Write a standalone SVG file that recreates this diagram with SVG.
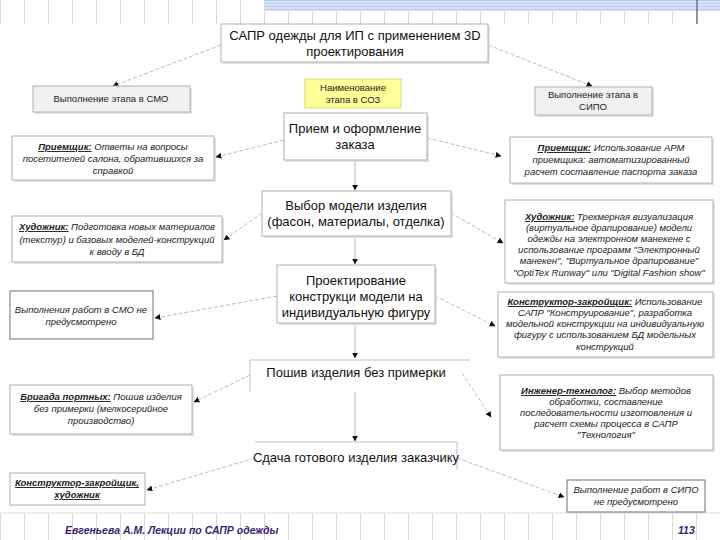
<svg xmlns="http://www.w3.org/2000/svg" width="720" height="540" viewBox="0 0 720 540">
<defs>
<marker id="ah" viewBox="0 0 10 10" refX="9" refY="5" markerWidth="6" markerHeight="6" orient="auto" markerUnits="userSpaceOnUse">
<path d="M0,0 L10,5 L0,10 z" fill="#111"/>
</marker>
<pattern id="grid" x="0" y="0" width="24" height="40" patternUnits="userSpaceOnUse">
<line x1="0.5" y1="0" x2="0.5" y2="40" stroke="#d8d8d8" stroke-width="1"/>
</pattern>
<pattern id="band" x="0" y="0" width="10" height="3" patternUnits="userSpaceOnUse">
<rect width="10" height="3" fill="#d6e3f5"/>
<rect width="10" height="1" fill="#b9cdea"/>
</pattern>
</defs>
<style>
.bx{fill:#fff;stroke:#b0b0b0;stroke-width:1}
.sh{fill:#e2e2e2}
.dk{fill:#fff;stroke:#707070;stroke-width:1}
.gr{fill:#f1f1f1;stroke:#b0b0b0;stroke-width:1}
.m{font-family:"Liberation Sans",Arial,sans-serif;font-size:13px;fill:#111;text-anchor:middle}
.s{font-family:"Liberation Sans",Arial,sans-serif;font-size:9.5px;font-style:italic;fill:#222;text-anchor:middle}
.n{font-family:"Liberation Sans",Arial,sans-serif;font-size:9.5px;fill:#222;text-anchor:middle}
.r{font-weight:bold;text-decoration:underline}
.c{fill:none;stroke:#bcbcbc;stroke-width:1;stroke-dasharray:4 2;marker-end:url(#ah)}
.v{fill:none;stroke:#b8b8b8;stroke-width:1;marker-end:url(#ah)}
.f{font-family:"Liberation Sans",Arial,sans-serif;font-size:10.5px;font-style:italic;font-weight:bold;fill:#3a1f70}
</style>
<rect width="720" height="540" fill="#fff"/>
<g id="background">
<rect x="0" y="0" width="720" height="24" fill="url(#grid)"/>
<rect x="264" y="0" width="456" height="11" fill="url(#band)"/>
<line x1="697" y1="0" x2="697" y2="24" stroke="#3a3a6a" stroke-width="1"/>
<rect x="0" y="513" width="720" height="27" fill="url(#grid)"/>
<line x1="0" y1="513" x2="720" y2="513" stroke="#dddddd" stroke-width="1"/>
</g>
<g id="connectors">
<line class="c" x1="221" y1="45" x2="113" y2="86"/>
<line class="c" x1="488" y1="45" x2="592" y2="86"/>
<line class="c" x1="284" y1="140" x2="216" y2="157"/>
<line class="c" x1="427" y1="138" x2="501" y2="156"/>
<line class="v" x1="355" y1="160" x2="355" y2="190"/>
<line class="c" x1="262" y1="213" x2="224" y2="240"/>
<line class="c" x1="451" y1="213" x2="503" y2="243"/>
<line class="v" x1="355" y1="236" x2="355" y2="264"/>
<line class="c" x1="277" y1="296" x2="155" y2="318"/>
<line class="c" x1="435" y1="296" x2="495" y2="326"/>
<line class="v" x1="355" y1="323" x2="355" y2="358"/>
<line class="c" x1="250" y1="375" x2="194" y2="402"/>
<line class="c" x1="462" y1="373" x2="491" y2="417"/>
<line class="v" x1="355" y1="392" x2="355" y2="441"/>
<line class="c" x1="255" y1="458" x2="147" y2="490"/>
<line class="c" x1="457" y1="458" x2="564" y2="497"/>
</g>
<g id="title">
<rect class="sh" x="223" y="26" width="267" height="38"/>
<rect class="bx" x="221" y="24" width="267" height="38"/>
<text class="m" x="355" y="40">САПР одежды для ИП с применением 3D</text>
<text class="m" x="355" y="56">проектирования</text>
</g>
<g id="smo-stage">
<rect class="sh" x="35" y="88" width="157" height="26"/>
<rect class="gr" x="33" y="86" width="157" height="26"/>
<text class="n" x="111" y="102">Выполнение этапа в СМО</text>
</g>
<g id="soz-stage">
<rect x="305" y="79" width="96" height="29" fill="#ffff99" stroke="#d8d870" stroke-width="1"/>
<text class="n" x="353" y="91">Наименование</text>
<text class="n" x="353" y="103">этапа в СОЗ</text>
</g>
<g id="sipo-stage">
<rect class="sh" x="537" y="89" width="117" height="28"/>
<rect class="gr" x="535" y="87" width="117" height="28"/>
<text class="n" x="593" y="98">Выполнение этапа в</text>
<text class="n" x="593" y="110">СИПО</text>
</g>
<g id="priem">
<rect class="sh" x="286" y="115" width="143" height="47"/>
<rect class="bx" x="284" y="113" width="143" height="47"/>
<text class="m" x="355" y="133">Прием и оформление</text>
<text class="m" x="355" y="149">заказа</text>
</g>
<g id="priem-smo">
<rect class="sh" x="14" y="138" width="202" height="44"/>
<rect class="bx" x="12" y="136" width="202" height="44"/>
<text class="s" x="113" y="150"><tspan class="r">Приемщик:</tspan> Ответы на вопросы</text>
<text class="s" x="113" y="162">посетителей салона, обратившихся за</text>
<text class="s" x="113" y="174">справкой</text>
</g>
<g id="priem-sipo">
<rect class="sh" x="512" y="139" width="202" height="46"/>
<rect class="bx" x="510" y="137" width="202" height="46"/>
<text class="s" x="611" y="151"><tspan class="r">Приемщик:</tspan> Использование АРМ</text>
<text class="s" x="611" y="163">приемщика: автоматизированный</text>
<text class="s" x="611" y="175">расчет составление паспорта заказа</text>
</g>
<g id="vybor">
<rect class="sh" x="264" y="193" width="189" height="45"/>
<rect class="bx" x="262" y="191" width="189" height="45"/>
<text class="m" x="356" y="210">Выбор модели изделия</text>
<text class="m" x="356" y="226">(фасон, материалы, отделка)</text>
</g>
<g id="hud-smo">
<rect class="sh" x="14" y="218" width="210" height="46"/>
<rect class="bx" x="12" y="216" width="210" height="46"/>
<text class="s" x="117" y="230"><tspan class="r">Художник:</tspan> Подготовка новых материалов</text>
<text class="s" x="117" y="243">(текстур) и базовых моделей-конструкций</text>
<text class="s" x="117" y="255">к вводу в БД</text>
</g>
<g id="hud-sipo">
<rect class="sh" x="507" y="202" width="208" height="83"/>
<rect class="bx" x="505" y="200" width="208" height="83"/>
<text class="s" x="609" y="220"><tspan class="r">Художник:</tspan> Трехмерная визуализация</text>
<text class="s" x="609" y="231">(виртуальное драпирование) модели</text>
<text class="s" x="609" y="242">одежды на электронном манекене с</text>
<text class="s" x="609" y="253">использование программ "Электронный</text>
<text class="s" x="609" y="264">манекен", "Виртуальное драпирование"</text>
<text class="s" x="609" y="276">"OptiTex Runway" или "Digital Fashion show"</text>
</g>
<g id="proekt">
<rect class="sh" x="279" y="267" width="158" height="58"/>
<rect class="bx" x="277" y="265" width="158" height="58"/>
<text class="m" x="356" y="285">Проектирование</text>
<text class="m" x="356" y="301">конструкци модели на</text>
<text class="m" x="356" y="317">индивидуальную фигуру</text>
</g>
<g id="proekt-smo">
<rect class="dk" x="10" y="291" width="143" height="48"/>
<text class="s" x="81" y="313">Выполнения работ в СМО не</text>
<text class="s" x="81" y="325">предусмотрено</text>
</g>
<g id="proekt-sipo">
<rect class="sh" x="500" y="294" width="215" height="65"/>
<rect class="bx" x="498" y="292" width="215" height="65"/>
<text class="s" x="605" y="305"><tspan class="r">Конструктор-закройщик:</tspan> Использование</text>
<text class="s" x="605" y="316">САПР "Конструирование", разработка</text>
<text class="s" x="605" y="327">модельной конструкции на индивидуальную</text>
<text class="s" x="605" y="338">фигуру с использованием БД модельных</text>
<text class="s" x="605" y="350">конструкций</text>
</g>
<g id="poshiv">
<polyline points="250,392 250,360 470,360" fill="none" stroke="#c0c0c0" stroke-width="1"/>
<text class="m" x="356" y="377">Пошив изделия без примерки</text>
</g>
<g id="poshiv-smo">
<rect class="sh" x="12" y="387" width="182" height="49"/>
<rect class="bx" x="10" y="385" width="182" height="49"/>
<text class="s" x="101" y="400"><tspan class="r">Бригада портных:</tspan> Пошив изделия</text>
<text class="s" x="101" y="412">без примерки (мелкосерийное</text>
<text class="s" x="101" y="424">производство)</text>
</g>
<g id="poshiv-sipo">
<rect class="sh" x="502" y="377" width="213" height="75"/>
<rect class="bx" x="500" y="375" width="213" height="75"/>
<text class="s" x="606" y="394"><tspan class="r">Инженер-технолог:</tspan> Выбор методов</text>
<text class="s" x="606" y="405">обработки, составление</text>
<text class="s" x="606" y="416">последовательности изготовления и</text>
<text class="s" x="606" y="427">расчет схемы процесса в САПР</text>
<text class="s" x="606" y="438">"Технология"</text>
</g>
<g id="sdacha">
<polyline points="255,442 457,442 457,470" fill="none" stroke="#c0c0c0" stroke-width="1"/>
<text class="m" x="356" y="462">Сдача готового изделия заказчику</text>
</g>
<g id="sdacha-smo">
<rect class="bx" x="10" y="473" width="135" height="32" stroke="#909090"/>
<text class="s r" x="77" y="486">Конструктор-закройщик,</text>
<text class="s r" x="77" y="498">художник</text>
</g>
<g id="sdacha-sipo">
<rect class="dk" x="567" y="480" width="138" height="32"/>
<text class="s" x="636" y="493">Выполнение работ в СИПО</text>
<text class="s" x="636" y="505">не предусмотрено</text>
</g>
<g id="footer">
<text class="f" x="65" y="534">Евгеньева А.М. Лекции по САПР одежды</text>
<text class="f" x="678" y="534" fill="#222">113</text>
</g>
</svg>
